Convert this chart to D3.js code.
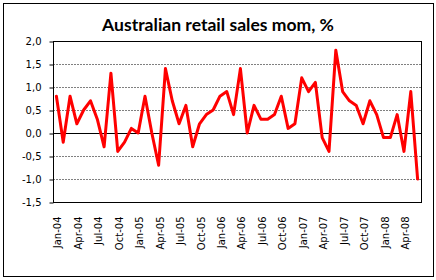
<!DOCTYPE html>
<html><head><meta charset="utf-8">
<script src="https://cdn.jsdelivr.net/npm/d3@7"></script>
<style>body{margin:0;background:#fff}svg{display:block}</style>
</head><body><svg id="c" width="436" height="280"></svg>
<script>
const months = [
 "Jan-04","Feb-04","Mar-04","Apr-04","May-04","Jun-04","Jul-04","Aug-04","Sep-04","Oct-04","Nov-04","Dec-04",
 "Jan-05","Feb-05","Mar-05","Apr-05","May-05","Jun-05","Jul-05","Aug-05","Sep-05","Oct-05","Nov-05","Dec-05",
 "Jan-06","Feb-06","Mar-06","Apr-06","May-06","Jun-06","Jul-06","Aug-06","Sep-06","Oct-06","Nov-06","Dec-06",
 "Jan-07","Feb-07","Mar-07","Apr-07","May-07","Jun-07","Jul-07","Aug-07","Sep-07","Oct-07","Nov-07","Dec-07",
 "Jan-08","Feb-08","Mar-08","Apr-08","May-08","Jun-08"];
const values = [
 0.8,-0.2,0.8,0.2,0.5,0.7,0.3,-0.3,1.3,-0.4,-0.2,0.1,
 0.0,0.8,0.0,-0.7,1.4,0.7,0.2,0.6,-0.3,0.2,0.4,0.5,
 0.8,0.9,0.4,1.4,0.0,0.6,0.3,0.3,0.4,0.8,0.1,0.2,
 1.2,0.9,1.1,-0.1,-0.4,1.8,0.9,0.7,0.6,0.2,0.7,0.4,
 -0.1,-0.1,0.4,-0.4,0.9,-1.0];
const tickLabels = ["Jan-04","Apr-04","Jul-04","Oct-04","Jan-05","Apr-05","Jul-05","Oct-05",
 "Jan-06","Apr-06","Jul-06","Oct-06","Jan-07","Apr-07","Jul-07","Oct-07","Jan-08","Apr-08"];
const yTicks = [-1.5,-1.0,-0.5,0,0.5,1.0,1.5,2.0];
const title = "Australian retail sales mom, %";

const svg = d3.select("#c");
const L = 53, R = 421, T = 41, B = 202;
const x = d3.scaleBand().domain(months).range([L, R]);
const y = d3.scaleLinear().domain([-1.5, 2.0]).range([B, T]);
const cx = m => x(m) + x.bandwidth() / 2;

// outer border
svg.append("rect").attr("x", 3.5).attr("y", 3.5).attr("width", 430).attr("height", 273)
  .attr("fill", "#fff").attr("stroke", "#000").attr("stroke-width", 1);

// title
const t = svg.append("text").attr("x", 218).attr("y", 31).attr("text-anchor", "middle")
  .attr("font-family", "Lato, 'Open Sans', sans-serif").attr("font-weight", "bold")
  .attr("font-size", 17).attr("fill", "#000").text(title);
const w = t.node().getComputedTextLength();
t.attr("font-size", 17 * 232 / w);

// gridlines
svg.append("g").selectAll("line").data(yTicks.filter(v => v !== 0 && v !== -1.5 && v !== 2.0))
  .join("line").attr("x1", L).attr("x2", R)
  .attr("y1", d => Math.round(y(d)) + 0.5).attr("y2", d => Math.round(y(d)) + 0.5)
  .attr("stroke", "#808080").attr("stroke-width", 1).attr("stroke-dasharray", "2,1");

// zero line
svg.append("line").attr("x1", L).attr("x2", R)
  .attr("y1", Math.round(y(0)) + 0.5).attr("y2", Math.round(y(0)) + 0.5)
  .attr("stroke", "#000").attr("stroke-width", 1);

// y axis
const ya = svg.append("g").attr("transform", `translate(${L + 0.5},0.5)`)
  .call(d3.axisLeft(y).tickValues(yTicks).tickSize(4).tickPadding(8)
    .tickFormat(d => d.toFixed(1).replace(".", ",")));
ya.select(".domain").remove();
ya.selectAll("line").attr("stroke", "#000");
ya.selectAll("text").attr("font-family", "'DejaVu Sans', sans-serif").attr("font-size", 10).attr("fill", "#000");

// plot border
svg.append("rect").attr("x", L + 0.5).attr("y", T + 0.5).attr("width", R - L).attr("height", B - T)
  .attr("fill", "none").attr("stroke", "#000").attr("stroke-width", 1);

// x labels
svg.append("g").selectAll("text").data(tickLabels).join("text")
  .attr("transform", d => `translate(${cx(d) + 1.5},216.5) rotate(-90)`)
  .attr("text-anchor", "end").attr("dy", "0.35em")
  .attr("font-family", "'DejaVu Sans', sans-serif").attr("font-size", 10).attr("fill", "#000")
  .text(d => d);

// line
svg.append("path").datum(values)
  .attr("d", d3.line().x((d, i) => cx(months[i])).y(d => y(d)))
  .attr("fill", "none").attr("stroke", "#ff0000").attr("stroke-width", 3)
  .attr("stroke-linejoin", "round").attr("stroke-linecap", "round");
</script>
</body></html>
